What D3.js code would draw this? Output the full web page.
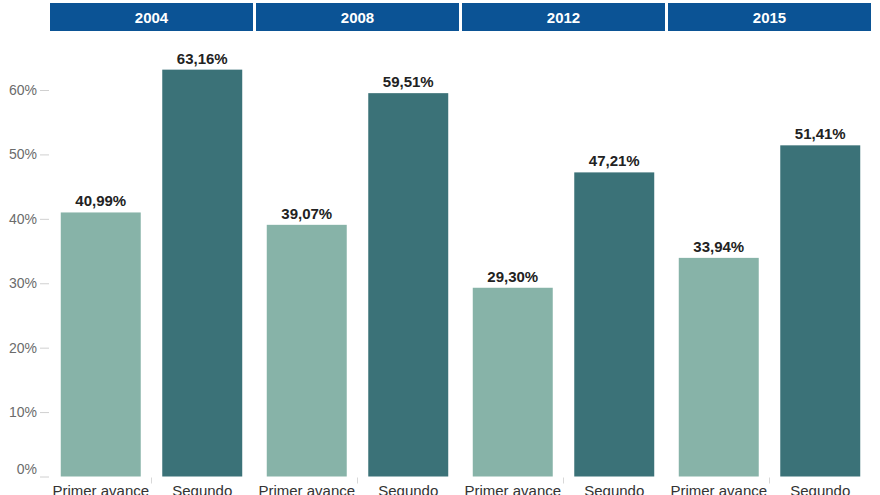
<!DOCTYPE html>
<html>
<head>
<meta charset="utf-8">
<script src="https://cdn.jsdelivr.net/npm/d3@7"></script>
<style>
  body { margin: 0; background: #fff; }
  svg { display: block; font-family: "Liberation Sans", Arial, sans-serif; }
</style>
</head>
<body>
<div class="chart"></div>
<script>
// years (column panels) and the two rounds in each
const years = ["2004", "2008", "2012", "2015"];
const rounds = ["Primer avance", "Segundo avance"];
// percentages per year
const primerAvance = [40.99, 39.07, 29.30, 33.94];
const segundoAvance = [63.16, 59.51, 47.21, 51.41];
const yTicks = [0, 10, 20, 30, 40, 50, 60];

const width = 880, height = 495;

const svg = d3.select(".chart")
  .append("svg")
  .attr("width", width)
  .attr("height", height);

// spanish number format: 40,99
const es = d3.formatLocale({decimal: ",", thousands: ".", grouping: [3], currency: ["", "€"]});
const fmt = v => es.format(".2f")(v) + "%";

// one row per bar
const rows = [];
years.forEach((yr, i) => {
  rows.push({year: yr, round: rounds[0], value: primerAvance[i]});
  rows.push({year: yr, round: rounds[1], value: segundoAvance[i]});
});

// panel scale
const x = d3.scaleBand()
  .domain(years)
  .range([50, 871])
  .paddingInner(0.0146)
  .paddingOuter(0);

// bars inside a panel
const xInner = d3.scaleBand()
  .domain(rounds)
  .range([0, x.bandwidth()])
  .paddingInner(0.212)
  .paddingOuter(0.106);

const y = d3.scaleLinear()
  .domain([0, 60])
  .range([476.5, 90]);

const color = d3.scaleOrdinal().domain(rounds).range(["#87b3a8", "#3b7278"]);

// header bars with the year
const head = svg.append("g").selectAll("g")
  .data(years)
  .join("g")
  .attr("transform", d => `translate(${x(d)},3)`);

head.append("rect")
  .attr("width", x.bandwidth())
  .attr("height", 28)
  .attr("fill", "#0b5395");

head.append("text")
  .text(d => d)
  .attr("x", x.bandwidth() / 2)
  .attr("y", 19.5)
  .attr("text-anchor", "middle")
  .attr("fill", "#fff")
  .attr("font-size", "15px")
  .attr("font-weight", "bold");

// y axis: labels and short ticks, no domain line
const yAxis = svg.append("g")
  .attr("transform", "translate(49,0)")
  .call(d3.axisLeft(y).tickValues(yTicks).tickSize(9).tickPadding(3).tickFormat(d => d + "%"));

yAxis.select(".domain").remove();
yAxis.selectAll(".tick line").attr("stroke", "#d0d0d0");
yAxis.selectAll(".tick text")
  .attr("fill", "#6b6b6b")
  .attr("font-size", "14px")
  .attr("font-family", "\"Liberation Sans\", Arial, sans-serif");
// the 0% label sits a bit higher
yAxis.selectAll(".tick").filter(d => d === 0).select("text").attr("dy", "-0.25em");

// bars
svg.append("g").selectAll("rect")
  .data(rows)
  .join("rect")
  .attr("x", d => x(d.year) + xInner(d.round))
  .attr("y", d => y(d.value))
  .attr("width", xInner.bandwidth())
  .attr("height", d => y(0) - y(d.value))
  .attr("fill", d => color(d.round));

// value labels
svg.append("g").selectAll("text")
  .data(rows)
  .join("text")
  .text(d => fmt(d.value))
  .attr("x", d => x(d.year) + xInner(d.round) + xInner.bandwidth() / 2)
  .attr("y", d => y(d.value) - 6)
  .attr("text-anchor", "middle")
  .attr("fill", "#222")
  .attr("font-size", "15px")
  .attr("font-weight", "bold");

// small tick in the middle of each panel under the baseline
svg.append("g").selectAll("line")
  .data(years)
  .join("line")
  .attr("x1", d => x(d) + x.bandwidth() / 2)
  .attr("x2", d => x(d) + x.bandwidth() / 2)
  .attr("y1", y(0) + 1)
  .attr("y2", y(0) + 7)
  .attr("stroke", "#d8d8d8");

// category labels (second line falls below the picture)
const cat = svg.append("g").selectAll("text")
  .data(rows)
  .join("text")
  .attr("x", d => x(d.year) + xInner(d.round) + xInner.bandwidth() / 2)
  .attr("y", 496)
  .attr("text-anchor", "middle")
  .attr("fill", "#333")
  .attr("font-size", "15px");

cat.each(function(d) {
  const words = d.round === rounds[0] ? [d.round] : d.round.split(" ");
  const t = d3.select(this);
  words.forEach((w, i) => {
    t.append("tspan")
      .attr("x", t.attr("x"))
      .attr("dy", i === 0 ? 0 : "1.15em")
      .text(w);
  });
});
</script>
</body>
</html>
